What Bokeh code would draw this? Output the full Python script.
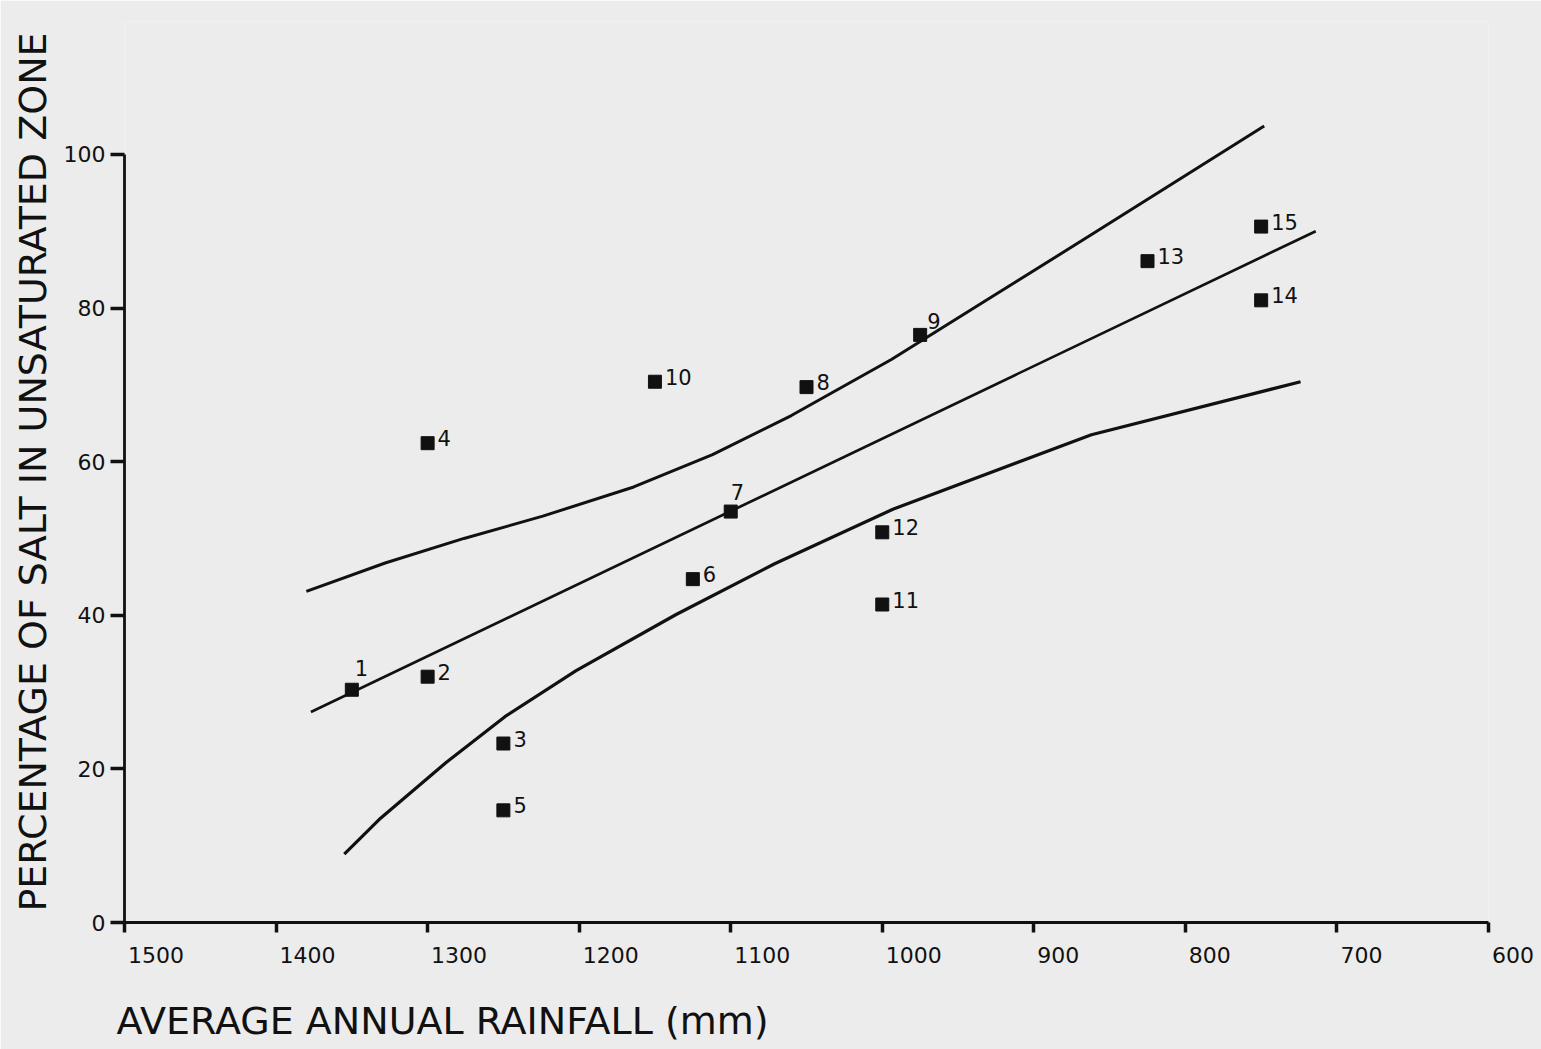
from bokeh.plotting import figure
from bokeh.models import Range1d, FixedTicker, Title, ColumnDataSource
from bokeh.embed import file_html
from bokeh.resources import INLINE
from bokeh.core.properties import value

# ---------------- data ----------------
site_labels = ["1", "2", "3", "4", "5", "6", "7", "8", "9", "10", "11", "12", "13", "14", "15"]
rainfall_mm = [1350, 1300, 1250, 1300, 1250, 1125, 1100, 1050, 975, 1150, 1000, 1000, 825, 750, 750]
salt_pct = [30.3, 32.0, 23.3, 62.4, 14.6, 44.7, 53.5, 69.7, 76.5, 70.4, 41.4, 50.8, 86.1, 81.0, 90.6]

regression_x = [1377, 714]
regression_y = [27.4, 90.0]

upper_x = [1380, 1328, 1276, 1224, 1164, 1112, 1060, 994, 929, 864, 748]
upper_y = [43.1, 46.8, 50.0, 52.9, 56.7, 60.9, 66.0, 73.3, 81.3, 89.3, 103.7]

lower_x = [1355, 1332, 1288, 1249, 1202, 1136, 1071, 993, 862, 724]
lower_y = [8.9, 13.4, 20.8, 26.8, 32.8, 40.1, 46.7, 53.8, 63.5, 70.4]

x_ticks = [1500, 1400, 1300, 1200, 1100, 1000, 900, 800, 700, 600]
y_ticks = [0, 20, 40, 60, 80, 100]

x_title = "AVERAGE ANNUAL RAINFALL (mm)"
y_title = "PERCENTAGE OF SALT IN UNSATURATED ZONE"

# ---------------- style ----------------
BG = "#ececec"
INK = "#111111"
FONT = "DejaVu Sans"
NBSP = "\u00a0"
# tick labels sit just to the right of their tick: pad with leading no-break spaces
x_tick_text = {t: NBSP * (9 if len(str(t)) == 4 else 7) + str(t) for t in x_ticks}
# label placement (pixels) relative to each marker; default right of marker
label_offset_default = (10, -5)
label_offset_special = {"1": (3, -22), "7": (0, -20), "9": (7, -14)}

p = figure(
    frame_width=1364, frame_height=901,
    x_range=Range1d(1500, 600), y_range=Range1d(0, 117.3),
    output_backend="svg", toolbar_location=None,
    min_border_left=124, min_border_right=53, min_border_top=21, min_border_bottom=127,
    background_fill_color=BG, border_fill_color=BG, outline_line_color=None,
)
p.grid.visible = False

# x axis
xa = p.xaxis[0]
xa.ticker = FixedTicker(ticks=x_ticks)
xa.major_label_overrides = x_tick_text
xa.bounds = (600, 1500)
xa.axis_line_width = 2.8
xa.axis_line_color = INK
xa.major_tick_line_width = 3.5
xa.major_tick_line_color = INK
xa.major_tick_out = 10
xa.major_tick_in = 0
xa.minor_tick_out = 0
xa.minor_tick_in = 0
xa.major_label_text_font = FONT
xa.major_label_text_font_size = "22px"
xa.major_label_text_color = INK
xa.major_label_standoff = 10

# y axis
ya = p.yaxis[0]
ya.ticker = FixedTicker(ticks=y_ticks)
ya.bounds = (0, 100)
ya.axis_line_width = 2.8
ya.axis_line_color = INK
ya.major_tick_line_width = 3.5
ya.major_tick_line_color = INK
ya.major_tick_out = 14
ya.major_tick_in = 0
ya.minor_tick_out = 0
ya.minor_tick_in = 0
ya.major_label_text_font = FONT
ya.major_label_text_font_size = "22px"
ya.major_label_text_color = INK
ya.major_label_standoff = 5
ya.axis_label = y_title
ya.axis_label_text_font = FONT
ya.axis_label_text_font_size = "38px"
ya.axis_label_text_font_style = "normal"
ya.axis_label_text_color = INK
ya.axis_label_standoff = 6

p.add_layout(Title(text=x_title, align="left", text_font=FONT, text_font_size="38px",
                   text_font_style="normal", text_color=INK, offset=-8, standoff=53), "below")

# lines
p.line(upper_x, upper_y, line_color=INK, line_width=3)
p.line(regression_x, regression_y, line_color=INK, line_width=2.7)
p.line(lower_x, lower_y, line_color=INK, line_width=3.2)

# points
src = ColumnDataSource(dict(
    x=rainfall_mm, y=salt_pct, label=site_labels,
    dx=[label_offset_special.get(s, label_offset_default)[0] for s in site_labels],
    dy=[label_offset_special.get(s, label_offset_default)[1] for s in site_labels],
))
p.scatter("x", "y", source=src, marker="square", size=13, fill_color=INK, line_color=INK)
p.text("x", "y", text="label", source=src, x_offset="dx", y_offset="dy",
       text_align="left", text_baseline="middle", text_font=value(FONT),
       text_font_size="21px", text_color=INK)

open("out.html", "w").write(file_html(p, INLINE))
